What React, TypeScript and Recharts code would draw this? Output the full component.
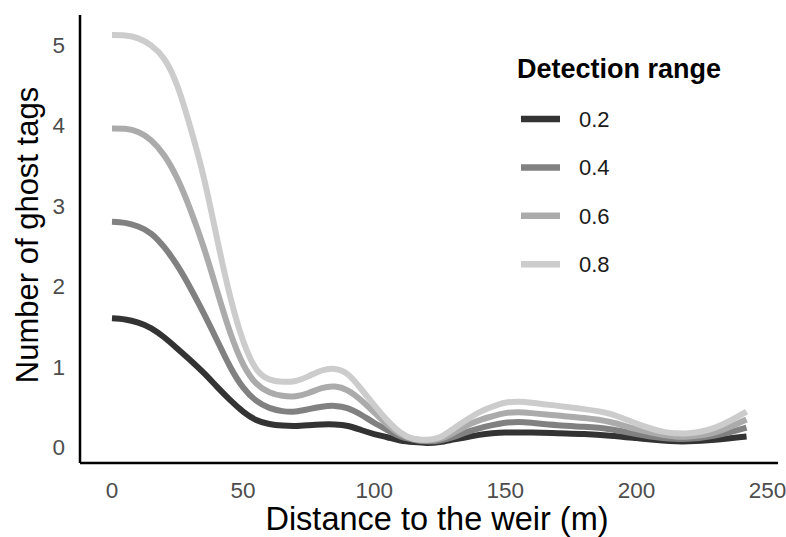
import React from 'react';
import { LineChart, Line, XAxis, YAxis, Legend } from 'recharts';

const FONT = '"Liberation Sans", Arial, Helvetica, sans-serif';

const distance = [0, 5, 10, 15, 20, 25, 30, 35, 40, 45, 50, 55, 60, 65, 70, 75, 80, 85, 90, 95, 100, 105, 110, 115, 120, 125, 130, 135, 140, 145, 150, 155, 160, 170, 180, 190, 200, 210, 215, 220, 230, 242];

const range02 = [1.6, 1.585, 1.545, 1.475, 1.36, 1.22, 1.075, 0.92, 0.75, 0.585, 0.44, 0.335, 0.285, 0.265, 0.26, 0.27, 0.28, 0.28, 0.26, 0.21, 0.16, 0.12, 0.08, 0.06, 0.05, 0.06, 0.09, 0.12, 0.15, 0.17, 0.18, 0.18, 0.18, 0.17, 0.16, 0.14, 0.11, 0.08, 0.07, 0.07, 0.09, 0.13];
const range04 = [2.8, 2.785, 2.74, 2.65, 2.48, 2.25, 1.97, 1.66, 1.33, 1.0, 0.74, 0.575, 0.485, 0.445, 0.44, 0.47, 0.5, 0.51, 0.48, 0.4, 0.3, 0.21, 0.13, 0.09, 0.07, 0.08, 0.12, 0.18, 0.23, 0.27, 0.3, 0.31, 0.3, 0.27, 0.25, 0.22, 0.16, 0.11, 0.1, 0.1, 0.14, 0.24];
const range06 = [3.96, 3.955, 3.915, 3.81, 3.62, 3.33, 2.94, 2.48, 1.95, 1.43, 1.03, 0.79, 0.68, 0.635, 0.63, 0.67, 0.73, 0.75, 0.7, 0.58, 0.43, 0.28, 0.16, 0.1, 0.08, 0.1, 0.17, 0.26, 0.33, 0.38, 0.42, 0.43, 0.42, 0.39, 0.36, 0.31, 0.22, 0.15, 0.13, 0.13, 0.18, 0.34];
const range08 = [5.12, 5.115, 5.08, 4.99, 4.82, 4.48, 3.96, 3.35, 2.6, 1.88, 1.32, 0.97, 0.84, 0.81, 0.82, 0.88, 0.95, 0.97, 0.9, 0.72, 0.52, 0.33, 0.18, 0.1, 0.09, 0.12, 0.22, 0.33, 0.43, 0.5, 0.55, 0.56, 0.55, 0.51, 0.47, 0.41, 0.29, 0.19, 0.17, 0.17, 0.24, 0.44];

const seriesKeys = ['r02', 'r04', 'r06', 'r08'];
const seriesNames = ['0.2', '0.4', '0.6', '0.8'];
const seriesColors = ['#333333', '#818181', '#ababab', '#cccccc'];
const seriesValues = [range02, range04, range06, range08];

const xTicks = [0, 50, 100, 150, 200, 250];
const yTicks = [0, 1, 2, 3, 4, 5];

const data = distance.map((d, i) => {
  const row: Record<string, number> = { distance: d };
  seriesKeys.forEach((k, j) => {
    row[k] = seriesValues[j][i];
  });
  return row;
});

const TICK_SIZE = 22.5;

const XTick = (props: any) => {
  const { x, y, payload } = props;
  return (
    <text x={x} y={y} dy={TICK_SIZE * 0.716} textAnchor="middle" fontFamily={FONT} fontSize={TICK_SIZE} fill="#4d4d4d">
      {payload.value}
    </text>
  );
};

const YTick = (props: any) => {
  const { x, y, payload } = props;
  return (
    <text x={x} y={y} dy={TICK_SIZE * 0.358} textAnchor="end" fontFamily={FONT} fontSize={TICK_SIZE} fill="#4d4d4d">
      {payload.value}
    </text>
  );
};

const renderLegend = (props: any) => {
  const payload = props.payload || [];
  return (
    <svg width={260} height={250} style={{ display: 'block', overflow: 'visible' }}>
      <text x={7} y={38} fontFamily={FONT} fontWeight={700} fontSize={27} fill="#000">
        Detection range
      </text>
      {payload.map((p: any, i: number) => {
        const y = 79 + i * 48.4;
        return (
          <g key={i}>
            <line x1={11} x2={50} y1={y} y2={y} stroke={p.color} strokeWidth={6.5} />
            <text x={69} y={y} dy={8} fontFamily={FONT} fontSize={22} fill="#1a1a1a">
              {p.value}
            </text>
          </g>
        );
      })}
    </svg>
  );
};

export default function App() {
  return (
    <div style={{ position: 'absolute', left: 0, top: 0, width: 786, height: 537, background: '#fff' }}>
      <LineChart width={786} height={537} data={data} margin={{ top: 15, right: 8, bottom: 0, left: 0 }}>
        <XAxis
          dataKey="distance"
          type="number"
          domain={[-12.2, 254]}
          ticks={xTicks}
          interval={0}
          allowDataOverflow
          tickLine={false}
          tickSize={0}
          tickMargin={19}
          height={74}
          axisLine={{ stroke: '#000', strokeWidth: 2.5 }}
          tick={<XTick />}
          label={{
            value: 'Distance to the weir (m)',
            position: 'insideBottom',
            offset: 7,
            dx: 8,
            style: { fontSize: 32.5, fontFamily: FONT, fill: '#000' },
          }}
        />
        <YAxis
          type="number"
          domain={[-0.2, 5.37]}
          ticks={yTicks}
          interval={0}
          allowDataOverflow
          tickLine={false}
          tickSize={0}
          tickMargin={15}
          width={80}
          axisLine={{ stroke: '#000', strokeWidth: 2.5 }}
          tick={<YTick />}
          label={{
            value: 'Number of ghost tags',
            angle: -90,
            position: 'insideLeft',
            offset: 27,
            dy: -4,
            style: { fontSize: 31, fontFamily: FONT, fill: '#000', textAnchor: 'middle' },
          }}
        />
        <Legend
          layout="vertical"
          align="center"
          verticalAlign="middle"
          content={renderLegend}
          wrapperStyle={{ position: 'absolute', left: 510, top: 40, width: 260, height: 250 }}
        />
        {seriesKeys.map((k, j) => (
          <Line
            key={k}
            dataKey={k}
            name={seriesNames[j]}
            type="natural"
            stroke={seriesColors[j]}
            strokeWidth={6}
            dot={false}
            activeDot={false}
            isAnimationActive={false}
            strokeLinecap="butt"
          />
        ))}
      </LineChart>
    </div>
  );
}
